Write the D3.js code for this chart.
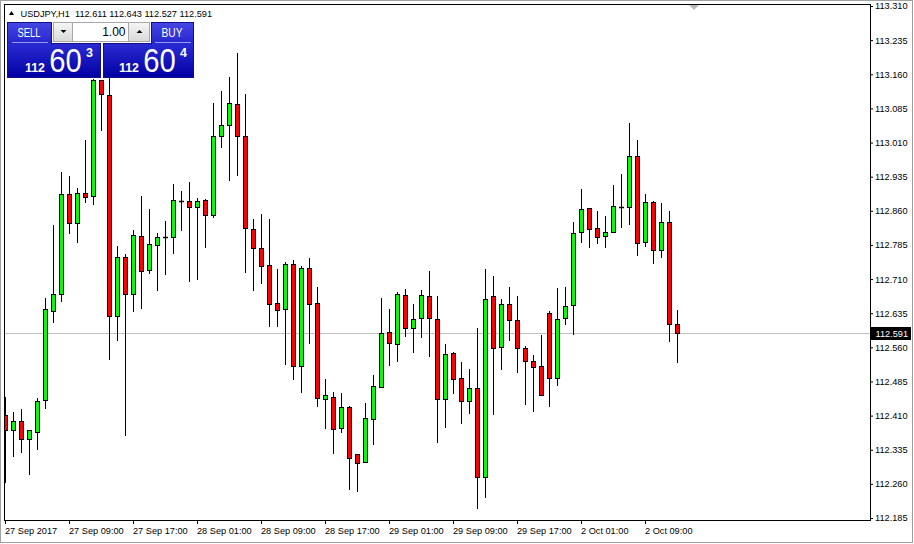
<!DOCTYPE html>
<html><head><meta charset="utf-8">
<script src="https://cdn.jsdelivr.net/npm/d3@7"></script>
<style>
html,body{margin:0;padding:0;background:#fff;}
svg{display:block;}
text{font-family:"Liberation Sans",Arial,sans-serif;}
</style></head><body>
<svg id="chart" width="914" height="544"></svg>
<script>
// ---- data ----
const symbolInfo = "USDJPY,H1  112.611 112.643 112.527 112.591";
const opens = [
112.411,112.378,112.398,112.359,112.374,112.444,112.640,112.677,112.897,112.833,
112.899,112.893,113.147,113.114,112.629,112.759,112.677,112.805,112.730,112.785,
112.802,112.802,112.882,112.882,112.868,112.884,112.851,113.024,113.049,113.095,
113.024,112.820,112.778,112.741,112.657,112.644,112.743,112.519,112.734,112.657,
112.446,112.451,112.383,112.429,112.326,112.308,112.403,112.473,112.594,112.567,
112.675,112.602,112.624,112.673,112.622,112.446,112.548,112.493,112.442,112.471,
112.275,112.673,112.561,112.655,112.620,112.559,112.530,112.519,112.635,112.493,
112.624,112.653,112.813,112.866,112.822,112.805,112.813,112.868,112.868,112.980,
112.791,112.879,112.774,112.835,112.611];
const highs = [
112.451,112.418,112.425,112.378,112.449,112.668,112.829,112.945,112.937,112.910,
113.016,113.150,113.147,113.152,112.783,112.765,112.818,112.893,112.864,112.811,
112.838,112.919,112.904,112.923,112.888,112.886,113.097,113.123,113.154,113.207,
113.117,112.842,112.853,112.842,112.732,112.748,112.752,112.739,112.756,112.693,
112.490,112.462,112.460,112.431,112.326,112.438,112.499,112.668,112.644,112.682,
112.688,112.655,112.686,112.728,112.673,112.567,112.550,112.528,112.512,112.602,
112.732,112.717,112.666,112.693,112.673,112.563,112.543,112.587,112.640,112.690,
112.693,112.835,112.908,112.866,112.860,112.849,112.917,112.941,113.053,113.016,
112.897,112.882,112.877,112.860,112.643];
const lows = [
112.264,112.321,112.330,112.282,112.337,112.427,112.616,112.662,112.811,112.791,
112.879,112.875,113.038,112.534,112.576,112.367,112.640,112.646,112.723,112.686,
112.721,112.767,112.818,112.706,112.710,112.781,112.846,113.000,112.928,112.939,
112.726,112.686,112.701,112.607,112.607,112.523,112.490,112.462,112.570,112.431,
112.383,112.328,112.374,112.249,112.244,112.308,112.348,112.473,112.521,112.530,
112.585,112.550,112.583,112.541,112.352,112.385,112.460,112.394,112.416,112.207,
112.231,112.414,112.512,112.576,112.506,112.436,112.420,112.455,112.431,112.477,
112.611,112.589,112.791,112.781,112.789,112.781,112.813,112.824,112.831,112.763,
112.783,112.745,112.759,112.574,112.527];
const closes = [
112.378,112.398,112.359,112.378,112.442,112.644,112.677,112.897,112.833,112.899,
112.890,113.147,113.117,112.629,112.759,112.677,112.807,112.728,112.787,112.802,
112.802,112.884,112.882,112.868,112.882,112.851,113.024,113.049,113.097,113.024,
112.822,112.778,112.739,112.655,112.642,112.743,112.519,112.734,112.655,112.449,
112.455,112.381,112.429,112.317,112.306,112.405,112.475,112.592,112.570,112.677,
112.602,112.622,112.675,112.624,112.446,112.545,112.490,112.442,112.471,112.275,
112.666,112.559,112.655,112.620,112.559,112.530,112.517,112.455,112.493,112.622,
112.651,112.811,112.864,112.820,112.802,112.813,112.871,112.868,112.980,112.789,
112.879,112.774,112.835,112.611,112.591];
const xTickIndex = [0,8,16,24,32,40,48,56,64,72,80];
const xTickLabels = ["27 Sep 2017","27 Sep 09:00","27 Sep 17:00","28 Sep 01:00","28 Sep 09:00",
  "28 Sep 17:00","29 Sep 01:00","29 Sep 09:00","29 Sep 17:00","2 Oct 01:00","2 Oct 09:00"];
const yTicks = [113.310,113.235,113.160,113.085,113.010,112.935,112.860,112.785,112.710,
  112.635,112.560,112.485,112.410,112.335,112.260,112.185];
const lastPrice = 112.591;
const sellQuote = ["112","60","3"];
const buyQuote = ["112","60","4"];
const lotSize = "1.00";

// ---- drawing ----
const svg = d3.select("#chart");
const W = 914, H = 544;
const plot = {left:5, top:5, right:870, bottom:520};

const x = d3.scaleLinear().domain([0, 108]).range([5, 869]);
const y = d3.scaleLinear().domain([112.185, 113.310]).range([518, 6]);

// window border
svg.append("rect").attr("x",0.5).attr("y",0.5).attr("width",W-2).attr("height",H-2)
  .attr("fill","#fff").attr("stroke","#a0a0a0");

const defs = svg.append("defs");
defs.append("clipPath").attr("id","plotclip").append("rect")
  .attr("x",plot.left).attr("y",plot.top).attr("width",plot.right-plot.left).attr("height",plot.bottom-plot.top);

const g = svg.append("g").attr("clip-path","url(#plotclip)");

// current price line
const ly = Math.round(y(lastPrice)) + 0.5;
g.append("line").attr("x1",plot.left).attr("x2",plot.right).attr("y1",ly).attr("y2",ly)
  .attr("stroke","#c0c0c0").attr("stroke-width",1);

const data = opens.map((o,i)=>({i,o,h:highs[i],l:lows[i],c:closes[i]}));

const cg = g.selectAll("g.candle").data(data).join("g").attr("class","candle");
cg.append("line")
  .attr("x1",d=>Math.round(x(d.i))+0.5).attr("x2",d=>Math.round(x(d.i))+0.5)
  .attr("y1",d=>Math.round(y(d.h))).attr("y2",d=>Math.round(y(d.l))+1)
  .attr("stroke","#000").attr("stroke-width",1);
cg.each(function(d){
  const sel = d3.select(this);
  const cx = Math.round(x(d.i));
  const yo = Math.round(y(d.o)), yc = Math.round(y(d.c));
  const top = Math.min(yo,yc), bot = Math.max(yo,yc);
  if (bot - top < 1) {
    sel.append("line").attr("x1",cx-2).attr("x2",cx+3).attr("y1",top+0.5).attr("y2",top+0.5)
      .attr("stroke","#000").attr("stroke-width",1.5);
  } else {
    sel.append("rect").attr("x",cx-1.5).attr("y",top+0.5).attr("width",4).attr("height",bot-top)
      .attr("fill", d.c >= d.o ? "#00ff00" : "#ff0000")
      .attr("stroke","#000").attr("stroke-width",1);
  }
});

// frame
svg.append("rect").attr("x",4.5).attr("y",4.5).attr("width",866).attr("height",516)
  .attr("fill","none").attr("stroke","#000");

// shift marker
svg.append("polygon").attr("points","689,5 699,5 694,10").attr("fill","#b8b8b8");

// y axis
const ya = svg.append("g").attr("transform","translate(870,0)")
  .call(d3.axisRight(y).tickValues(yTicks).tickSize(3).tickPadding(2).tickFormat(d3.format(".3f")));
ya.select(".domain").remove();
ya.selectAll("text").attr("font-family","'Liberation Sans',Arial,sans-serif").attr("font-size","9.2px").attr("fill","#000");
ya.selectAll("line").attr("stroke","#000");

// x axis
const xa = svg.append("g").attr("transform","translate(0,520)")
  .call(d3.axisBottom(x).tickValues(xTickIndex).tickSize(4).tickFormat((d,i)=>xTickLabels[i]));
xa.select(".domain").remove();
xa.selectAll("line").attr("stroke","#000");
xa.selectAll("text").attr("text-anchor","start").attr("x",-0.5).attr("y",7.3).attr("dy","0.71em")
  .attr("font-family","'Liberation Sans',Arial,sans-serif").attr("font-size","9.2px").attr("fill","#000");

// last price label
svg.append("rect").attr("x",870).attr("y",Math.round(y(lastPrice))-6).attr("width",41).attr("height",13).attr("fill","#000");
svg.append("text").attr("x",875.5).attr("y",y(lastPrice)+0.5).attr("dy","0.34em")
  .attr("font-size","9.2px").attr("fill","#fff").text(d3.format(".3f")(lastPrice));

// header
svg.append("polygon").attr("points","9,15 14,15 11.5,11").attr("fill","#000");
svg.append("text").attr("x",20.5).attr("y",16.5).attr("font-size","9.2px").attr("fill","#000")
  .style("white-space","pre").text(symbolInfo);

// trade panel
const gt = defs.append("linearGradient").attr("id","gTop").attr("x1",0).attr("y1",0).attr("x2",0).attr("y2",1);
gt.append("stop").attr("offset","0%").attr("stop-color","#4646e4");
gt.append("stop").attr("offset","100%").attr("stop-color","#2424cc");
const gb = defs.append("linearGradient").attr("id","gBig").attr("x1",0).attr("y1",0).attr("x2",0).attr("y2",1);
gb.append("stop").attr("offset","0%").attr("stop-color","#2b2bd4");
gb.append("stop").attr("offset","100%").attr("stop-color","#0000a2");
const gg = defs.append("linearGradient").attr("id","gGray").attr("x1",0).attr("y1",0).attr("x2",0).attr("y2",1);
gg.append("stop").attr("offset","0%").attr("stop-color","#f6f6f6");
gg.append("stop").attr("offset","100%").attr("stop-color","#d8d8d8");

const pn = svg.append("g");
// big boxes
pn.append("rect").attr("x",7.5).attr("y",43.5).attr("width",93).attr("height",34).attr("fill","url(#gBig)").attr("stroke","#10108a");
pn.append("rect").attr("x",103.5).attr("y",43.5).attr("width",90).attr("height",34).attr("fill","url(#gBig)").attr("stroke","#10108a");
// top buttons
pn.append("rect").attr("x",7.5).attr("y",22.5).attr("width",44).attr("height",22).attr("fill","url(#gTop)").attr("stroke","#10108a");
pn.append("rect").attr("x",151.5).attr("y",22.5).attr("width",42).attr("height",22).attr("fill","url(#gTop)").attr("stroke","#10108a");
pn.append("rect").attr("x",8).attr("y",43).attr("width",43).attr("height",2).attr("fill","#2828cf");
pn.append("rect").attr("x",152).attr("y",43).attr("width",41).attr("height",2).attr("fill","#2828cf");
pn.append("line").attr("x1",12).attr("x2",48).attr("y1",42.5).attr("y2",42.5).attr("stroke","#9a9af2");
pn.append("line").attr("x1",155).attr("x2",191).attr("y1",42.5).attr("y2",42.5).attr("stroke","#9a9af2");
pn.append("text").attr("x",17.5).attr("y",37).attr("font-size","12px").attr("fill","#fff")
  .attr("textLength",23).attr("lengthAdjust","spacingAndGlyphs").text("SELL");
pn.append("text").attr("x",161.5).attr("y",37).attr("font-size","12px").attr("fill","#fff")
  .attr("textLength",21).attr("lengthAdjust","spacingAndGlyphs").text("BUY");
// lot control
pn.append("rect").attr("x",53.5).attr("y",22.5).attr("width",19).attr("height",19).attr("fill","url(#gGray)").attr("stroke","#a8a8a8");
pn.append("rect").attr("x",72.5).attr("y",22.5).attr("width",56).attr("height",19).attr("fill","#fff").attr("stroke","#a8a8a8");
pn.append("rect").attr("x",128.5).attr("y",22.5).attr("width",21).attr("height",19).attr("fill","url(#gGray)").attr("stroke","#a8a8a8");
pn.append("polygon").attr("points","60.5,30 66.5,30 63.5,33").attr("fill","#000");
pn.append("polygon").attr("points","136.5,33 142.5,33 139.5,30").attr("fill","#000");
pn.append("text").attr("x",125.5).attr("y",36).attr("text-anchor","end").attr("font-size","12px").attr("fill","#000").text(lotSize);
// quotes
function quote(x0, q){
  pn.append("text").attr("x",x0).attr("y",71.8).attr("font-size","13.5px").attr("font-weight","bold").attr("fill","#fff")
    .attr("textLength",20).attr("lengthAdjust","spacingAndGlyphs").text(q[0]);
  pn.append("text").attr("x",x0+24.3).attr("y",71.8).attr("font-size","32.5px").attr("fill","#fff")
    .attr("textLength",32.5).attr("lengthAdjust","spacingAndGlyphs").text(q[1]);
  pn.append("text").attr("x",x0+61).attr("y",57.3).attr("font-size","12.5px").attr("font-weight","bold").attr("fill","#fff").text(q[2]);
}
quote(25, sellQuote);
quote(119, buyQuote);
</script>
</body></html>
